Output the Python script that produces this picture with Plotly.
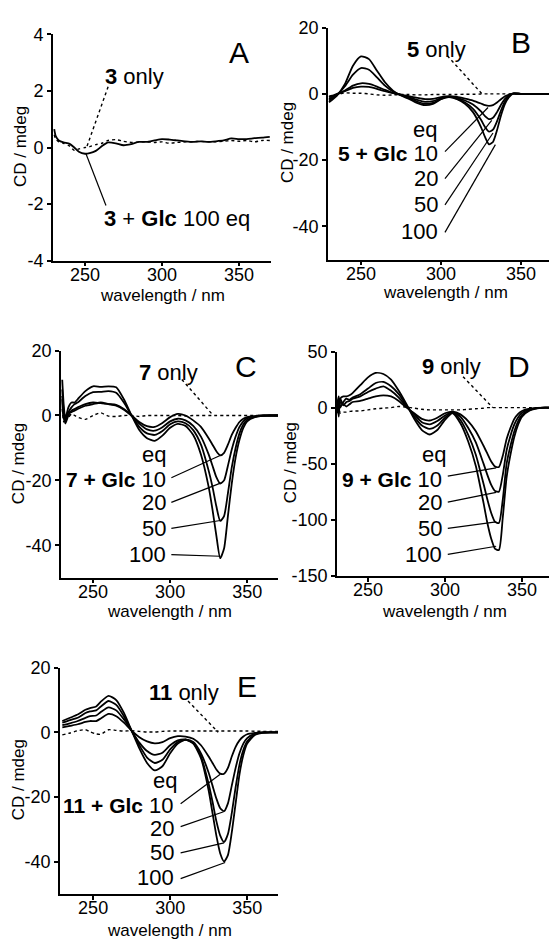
import plotly.graph_objects as go

# ---------------- data ----------------
wl_A = [230, 231, 233, 236, 240, 243, 246, 250, 253, 257, 261, 265, 270, 275, 280, 285, 290,
        295, 300, 305, 310, 315, 320, 325, 330, 335, 340, 345, 350, 355, 360, 365, 370]
A_only = [0.45, 0.3, 0.2, 0.15, 0.05, -0.1, -0.05, 0.0, 0.03, 0.1, 0.15, 0.25, 0.28, 0.22, 0.18, 0.2, 0.2,
          0.18, 0.2, 0.15, 0.18, 0.2, 0.2, 0.22, 0.2, 0.2, 0.22, 0.25, 0.22, 0.25, 0.2, 0.25, 0.25]
A_100 = [0.65, 0.4, 0.25, 0.18, 0.13, 0.0, -0.15, -0.22, -0.2, -0.12, 0.05, 0.18, 0.15, 0.08, 0.12, 0.2, 0.2,
         0.25, 0.3, 0.28, 0.25, 0.22, 0.2, 0.22, 0.2, 0.22, 0.25, 0.32, 0.3, 0.3, 0.33, 0.35, 0.38]

wl_B = [230, 235, 240, 245, 250, 255, 260, 265, 270, 275, 280, 285, 290, 295, 300, 305, 310, 315, 320,
        325, 327.5, 330, 332.5, 335, 337.5, 340, 342.5, 345, 350, 355, 360, 365, 370]
B_only = [-0.7, -0.2, 0.3, 0.2, 0.2, 0.0, -0.3, -0.4, -0.3, -0.2, -0.2, -0.3, -0.3, -0.2, -0.2, -0.2, -0.2, -0.1, -0.1,
          -0.05, 0, 0, 0, 0, 0, 0, 0, 0, 0, 0, 0, 0, 0]
B_10 = [-1.0, 0.0, 0.8, 1.8, 2.2, 2.1, 1.5, 0.8, 0.2, -0.2, -0.7, -1.2, -1.6, -1.5, -1.0, -0.7, -0.9, -1.4, -2.0,
        -2.9, -3.4, -3.6, -3.4, -2.6, -1.6, -0.7, -0.2, 0.1, 0, 0, 0, 0, 0]
B_20 = [-1.5, -0.2, 1.0, 2.5, 3.2, 3.0, 2.2, 1.2, 0.3, -0.3, -1.0, -1.8, -2.4, -2.2, -1.3, -0.8, -1.2, -2.0, -3.2,
        -5.3, -6.7, -7.6, -7.2, -5.5, -3.3, -1.5, -0.4, 0.1, 0, 0, 0, 0, 0]
B_50 = [-2.0, -0.3, 2.3, 5.8, 7.8, 7.3, 5.0, 2.5, 0.7, -0.4, -1.3, -2.3, -3.0, -2.7, -1.5, -0.9, -1.4, -2.6, -4.5,
        -7.8, -10.0, -11.4, -10.8, -8.3, -5.0, -2.3, -0.7, 0.1, 0, 0, 0, 0, 0]
B_100 = [-2.5, -0.5, 3.0, 8.5, 11.3, 10.5, 7.0, 3.5, 1.0, -0.5, -1.5, -2.7, -3.4, -3.0, -1.6, -1.0, -1.6, -3.0, -5.5,
         -10.0, -13.0, -15.2, -14.5, -11.0, -6.5, -3.0, -1.0, 0.1, 0, 0, 0, 0, 0]

wl_C = [230, 231, 232, 234, 236, 238, 240, 245, 250, 255, 260, 265, 270, 275, 280, 285, 290, 295, 300, 305,
        310, 315, 320, 325, 327.5, 330, 332.5, 335, 337.5, 340, 342.5, 345, 347.5, 350, 355, 360, 365, 370]
C_only = [2, -2, 0, -0.5, 0.5, 0, -0.5, -1.2, 0, 0.8, -0.2, -0.3, 0, 0, -0.3, 0, 0, 0, 0, 0,
          -0.2, 0, 0, 0, 0, 0, 0, 0, 0, 0, 0, 0, 0, 0, 0, 0, 0, 0]
C_10 = [5, -1, -1, 1, 1, 1.5, 2, 3, 3.5, 4, 3.5, 3, 1.8, 0, -2.0, -3.3, -3.5, -2.3, -0.5, 0.5,
        0.0, -1.5, -3.5, -7, -9, -11, -12.3, -11.5, -9, -6, -3.8, -2.0, -1.0, -0.5, -0.2, 0, 0, 0]
C_20 = [6, 0, -2.5, 0, 1.5, 2, 2.5, 3.5, 4, 3.8, 3.5, 3.3, 2, 0, -2.5, -4.3, -4.7, -3.6, -1.8, -1.0,
        -1.5, -3.2, -6.5, -12, -15.5, -19, -21, -20, -15.5, -10.5, -6.5, -3.5, -1.8, -0.8, -0.3, 0, 0, 0]
C_50 = [8, 1, -2, 1, 2.5, 3.5, 4, 6, 7.2, 7.3, 7.5, 7, 4, 0, -3.5, -5.5, -6, -4.8, -2.7, -1.8,
        -2.4, -4.5, -9, -17, -22, -28, -32.5, -31, -24, -16, -10, -5.5, -2.8, -1.3, -0.4, -0.1, 0, 0]
C_100 = [11, 3, -1, 2.5, 4, 4, 5, 7.5, 9, 8.8, 9, 8.7, 5, 0, -4.5, -7, -7.8, -6.2, -3.8, -2.6,
         -3.2, -6, -12, -22, -29, -37, -44, -41, -31, -21, -13, -7.5, -3.8, -1.8, -0.5, -0.1, 0, 0]

wl_D = wl_C
D_only = [-3, 5, -5, -4, -4, -3.5, -3, -3, -2, -1, -0.5, 0, 1, 0.5, -0.5, -1.5, -2, -2, -2, -2,
          -2, -1.5, -1, -0.5, 0, 0, 0, 0, 0, 0, 0, 0, 0, 0, 0, 0, 0, 0]
D_10 = [2, -3, 5, 3, 1, 3, 5, 6, 8, 10, 11, 10, 6, 0, -5, -10, -11.5, -9, -5, -3.5,
        -6, -12, -21, -34, -41, -48, -52.5, -53, -43, -28, -18, -10, -5.5, -3, -1, -0.2, 0, 0]
D_20 = [-5, 5, 8, 2, 5, 6, 8, 10, 14, 17, 19, 15, 9, 1, -6, -13, -15, -12, -7, -4,
        -8, -18, -31, -50, -60, -69, -74.5, -75, -60, -38, -25, -15, -8.5, -4.5, -1.5, -0.3, 0, 0]
D_50 = [3, 10, 0, 5, 8, 7, 9, 12, 17, 22, 23, 19, 12, 2, -8, -16, -19, -16, -9, -4.5,
        -11, -24, -42, -68, -82, -94, -102, -103, -82, -50, -34, -21, -12, -6.5, -2, -0.5, 0, 0]
D_100 = [5, -8, 8, 10, 10, 11, 13, 20, 27, 31, 30, 25, 15, 3, -10, -20, -24, -20, -11, -5,
         -14, -30, -52, -85, -103, -117, -126, -127, -98, -62, -42, -26, -15, -8, -2.5, -0.6, 0, 0]

wl_E = [230, 235, 240, 245, 248, 252, 255, 260, 265, 270, 275, 280, 285, 290, 295, 300, 305, 310, 315, 320,
        325, 327.5, 330, 332.5, 335, 337.5, 340, 342.5, 345, 347.5, 350, 355, 360, 365, 370]
E_only = [-0.8, -0.2, 0.5, 0.8, 0.2, -0.5, -0.6, 0.8, 0.6, 0.4, 0.5, 0.3, 0.1, 0.1, 0.3, 0.4, 0.4, 0.4, 0.4, 0.4,
          0.4, 0.4, 0.4, 0.4, 0.4, 0.4, 0.4, 0.4, 0.4, 0.4, 0.4, 0.35, 0.3, 0.3, 0.3]
E_10 = [1.5, 2, 2.5, 3.2, 3.5, 3.5, 4.3, 5.7, 5, 3, 0.5, -1.5, -2.8, -3.4, -3, -1.8, -1.2, -1.3, -2, -4,
        -7.5, -9.5, -11.5, -12.8, -12.8, -11, -7.5, -4.5, -2.5, -1.3, -0.6, -0.2, 0, 0, 0]
E_20 = [2.2, 2.8, 3.5, 4.5, 5, 5.2, 6.3, 7.7, 6.8, 4, 0.5, -3.2, -5.8, -7, -6.3, -4, -2.5, -2.2, -3, -6.5,
        -12.5, -16.5, -20.5, -23.5, -24.4, -22, -16.5, -11, -6.5, -3.5, -1.8, -0.4, 0, 0, 0]
E_50 = [3, 3.8, 4.5, 6, 6.5, 6.8, 8, 9.7, 8.5, 5, 0.5, -4, -7.8, -9.5, -8.5, -5.3, -3.0, -2.3, -3.3, -7.5,
        -16, -21.5, -27.5, -32, -34, -31.5, -25, -17, -10, -5.5, -2.8, -0.6, -0.1, 0, 0]
E_100 = [3.5, 4.5, 5.5, 7, 7.5, 8, 9.5, 11.3, 10, 6, 0.5, -5, -9.5, -11.8, -10.5, -6.5, -3.5, -2.3, -3.5, -8,
         -18, -25, -32, -37.5, -40, -38, -31, -22, -13, -7, -3.5, -0.8, -0.2, 0, 0]

x_ticks = [250, 300, 350]
x_ticklabels = ["250", "300", "350"]
yA_ticks = [-4, -2, 0, 2, 4]
yA_ticklabels = ["-4", "-2", "0", "2", "4"]
y20_ticks = [-40, -20, 0, 20]
y20_ticklabels = ["-40", "-20", "0", "20"]
yD_ticks = [-150, -100, -50, 0, 50]
yD_ticklabels = ["-150", "-100", "-50", "0", "50"]
eq_labels = ["10", "20", "50", "100"]

# ---------------- figure ----------------
FONT = "Liberation Sans, Arial, Helvetica, sans-serif"
W, H = 549, 942

def px_x(p):
    return p / W

def px_y(p):
    return 1 - p / H

panels = {
    # name: (axis suffix, x domain px, y domain px, x range, y range, ytickvals, yticktext)
    "A": ("", (53, 271), (25, 256), (229.2, 370.8), (-4, 4), yA_ticks, yA_ticklabels),
    "B": ("2", (328, 549), (18, 255), (229.4, 367.5), (-50, 20), y20_ticks, y20_ticklabels),
    "C": ("3", (61, 278), (348, 580), (229.2, 370), (-50, 20), y20_ticks, y20_ticklabels),
    "D": ("4", (337, 549), (349, 578), (229.9, 367.5), (-150, 50), yD_ticks, yD_ticklabels),
    "E": ("5", (60, 278), (672, 903), (228.5, 370), (-50, 20), y20_ticks, y20_ticklabels),
}

fig = go.Figure()

series = {
    "A": (wl_A, A_only, [A_100]),
    "B": (wl_B, B_only, [B_10, B_20, B_50, B_100]),
    "C": (wl_C, C_only, [C_10, C_20, C_50, C_100]),
    "D": (wl_D, D_only, [D_10, D_20, D_50, D_100]),
    "E": (wl_E, E_only, [E_10, E_20, E_50, E_100]),
}
compound = {"A": "3", "B": "5", "C": "7", "D": "9", "E": "11"}

for name, (wl, only, glc) in series.items():
    suf = panels[name][0]
    xa, ya = "x" + suf, "y" + suf
    fig.add_trace(go.Scatter(x=wl, y=only, mode="lines", xaxis=xa, yaxis=ya,
                             line=dict(color="black", width=1.4, dash="dot", shape="spline", smoothing=0.6),
                             name=compound[name] + " only", showlegend=False))
    lbls = ["100"] if name == "A" else eq_labels
    for lab, ys in zip(lbls, glc):
        fig.add_trace(go.Scatter(x=wl, y=ys, mode="lines", xaxis=xa, yaxis=ya,
                                 line=dict(color="black", width=1.8, shape="spline", smoothing=0.6),
                                 name=compound[name] + " + Glc " + lab + " eq", showlegend=False))

layout = dict(width=W, height=H, margin=dict(l=0, r=0, t=0, b=0),
              paper_bgcolor="white", plot_bgcolor="white", showlegend=False,
              font=dict(family=FONT, size=18, color="black"))

axis_common = dict(showline=True, linecolor="black", linewidth=1.6, ticks="outside", ticklen=4,
                   tickwidth=1.5, tickcolor="black", showgrid=False, zeroline=False,
                   tickfont=dict(family=FONT, size=18, color="black"), fixedrange=True)

for name, (suf, xd, yd, xr, yr, ytv, ytt) in panels.items():
    xkey = "xaxis" + suf
    ykey = "yaxis" + suf
    layout[xkey] = dict(axis_common, domain=[px_x(xd[0]), px_x(xd[1])], range=list(xr),
                        tickvals=x_ticks, ticktext=x_ticklabels, anchor="y" + suf,
                        ticklabelstandoff=-7)
    layout[ykey] = dict(axis_common, domain=[px_y(yd[1]), px_y(yd[0])], range=list(yr),
                        tickvals=ytv, ticktext=ytt, anchor="x" + suf)

fig.update_layout(**layout)

ann = []
shapes = []

# axis titles (paper coordinates, pixel positions)
ytitle_pos = [(20, 140), (287, 136), (18, 464), (290, 463), (18, 787)]
xtitle_pos = [(162, 292), (445, 289), (169, 615), (444, 615), (169, 940)]
for (px, py) in ytitle_pos:
    ann.append(dict(text="CD / mdeg", x=px_x(px), y=px_y(py), xref="paper", yref="paper",
                    showarrow=False, textangle=-90, font=dict(size=17), xanchor="center", yanchor="middle"))
for (px, py) in xtitle_pos:
    ann.append(dict(text="wavelength / nm", x=px_x(px), y=px_y(py), xref="paper", yref="paper",
                    showarrow=False, font=dict(size=17), xanchor="center", yanchor="middle"))

LBL = 22

def add_text(suf, text, x, y, xanchor="left", size=LBL):
    ann.append(dict(text=text, x=x, y=y, xref="x" + suf, yref="y" + suf, showarrow=False,
                    xanchor=xanchor, yanchor="middle", font=dict(size=size)))

def add_leader(suf, x0, y0, x1, y1, dotted=False):
    shapes.append(dict(type="line", xref="x" + suf, yref="y" + suf, x0=x0, y0=y0, x1=x1, y1=y1,
                       line=dict(color="black", width=1.2 if not dotted else 1.4,
                                 dash="dot" if dotted else "solid")))

# panel letters
letters = {"A": (350, 3.37), "B": (350, 15.6), "C": (349, 15.2), "D": (348, 36.4), "E": (350, 14.2)}
for name, (lx, ly) in letters.items():
    add_text(panels[name][0], name, lx, ly, xanchor="center", size=30)

# Panel A labels
add_text("", "<b>3</b> only", 261.7, 2.5)
add_text("", "<b>3</b> + <b>Glc</b> 100 eq", 261, -2.5)
add_leader("", 265, 2.15, 251, 0.0, dotted=True)
add_leader("", 250.5, -0.2, 263.6, -2.05)

# "only" labels for B-E
only_lbl = {"B": (277.5, 13.5, (304, 11.5, 325.6, 0)),
            "C": (278.5, 13.1, (307.6, 11.1, 328, 0)),
            "D": (283.8, 36.4, (311.7, 27.6, 331, 0)),
            "E": (284.7, 12.2, (311.6, 9.7, 331.2, 0))}
for name, (tx, ty, ld) in only_lbl.items():
    suf = panels[name][0]
    add_text(suf, "<b>%s</b> only" % compound[name], tx, ty)
    add_leader(suf, *ld, dotted=True)

# eq rows: (eq center x, eq y, numbers right edge x, row ys, leader start x, leader list)
rows = {
    "B": (290.3, -10.6, 299.4, [-18.0, -25.6, -33.5, -41.5], 302.5,
          [(-17.4, 329.4, -4.1), (-25.6, 331.7, -8.0), (-33.5, 332.5, -11.8), (-41.8, 334.0, -15.3)]),
    "C": (289.5, -11.9, 298.7, [-19.8, -26.7, -34.8, -42.9], 300.8,
          [(-19.2, 333.5, -12.1), (-26.8, 333.5, -20.7), (-34.8, 333.5, -32.3), (-42.9, 332.5, -43.4)]),
    "D": (292.8, -41.5, 299.4, [-64.3, -84.4, -107.7, -131], 301.8,
          [(-61.1, 333.2, -53.8), (-84.4, 333.2, -75.6), (-107.7, 333.2, -101.9), (-131, 333.2, -123.7)]),
    "E": (296.5, -14.8, 304, [-22.7, -29.7, -37.3, -44.8], 306.8,
          [(-22.1, 332.5, -13.0), (-29.2, 334.7, -24.6), (-37.3, 335.0, -34.2), (-45.3, 335.7, -40.3)]),
}
for name, (eqx, eqy, rx, rys, lx0, lds) in rows.items():
    suf = panels[name][0]
    add_text(suf, "eq", eqx, eqy, xanchor="center")
    for i, (lab, ry) in enumerate(zip(eq_labels, rys)):
        if i == 0:
            txt = "<span style=\"font-size:21px\"><b>%s + Glc</b></span> %s" % (compound[name], lab)
        else:
            txt = lab
        add_text(suf, txt, rx, ry, xanchor="right")
    for (y0, x1, y1) in lds:
        add_leader(suf, lx0, y0, x1, y1)

fig.update_layout(annotations=ann, shapes=shapes)
fig.write_html("out.html")
